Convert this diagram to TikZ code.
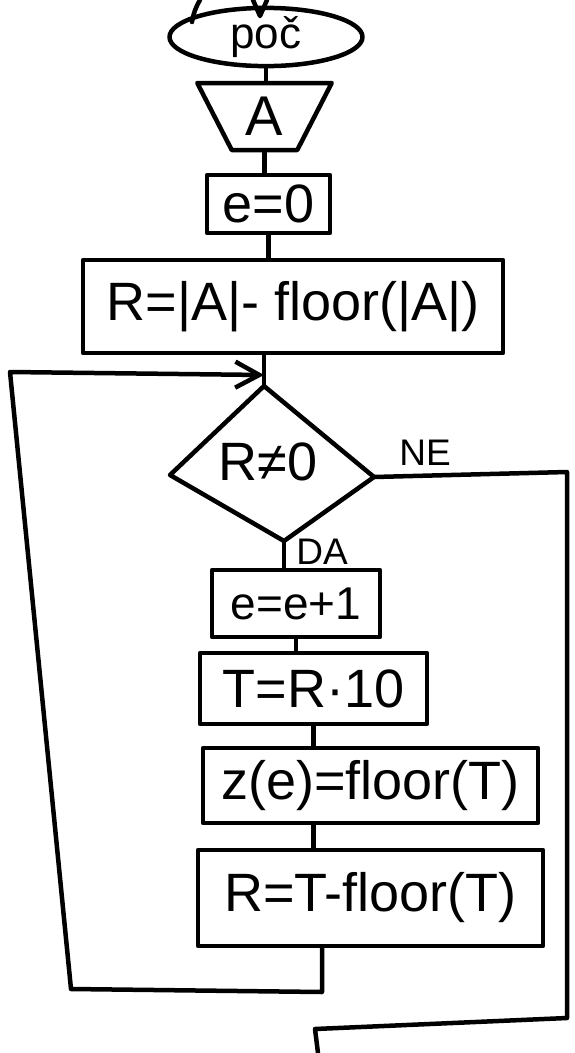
\documentclass[tikz,border=0pt]{standalone}
\usepackage{fontspec}
\setmainfont{Liberation Sans}
\usetikzlibrary{shapes.geometric,arrows.meta}
\begin{document}
\begin{tikzpicture}[x=1pt,y=-1pt,
  ln/.style={line width=4.5pt, line cap=round, line join=round},
  box/.style={ln, draw, rectangle, inner sep=0pt},
  hw/.style={font=\fontsize{54}{54}\selectfont, inner sep=0pt},
  hwm/.style={font=\fontsize{46}{46}\selectfont, inner sep=0pt},
  hws/.style={font=\fontsize{37}{37}\selectfont, inner sep=0pt}]
\useasboundingbox (0,0) rectangle (574,1053);
% top fragments
\coordinate (f1) at (200,0);
\coordinate (f2) at (192,22);
\draw[ln] (f1) to[bend right=10] (f2);
\coordinate (v1) at (253,0);
\coordinate (v2) at (260,16);
\coordinate (v3) at (267,0);
\draw[ln] (v1) -- (v2) -- (v3);
% nodes
\node[ln,draw,ellipse,minimum width=193pt,minimum height=40pt,inner sep=0pt,
  font=\fontsize{44}{44}\selectfont] (poc) at (266,37) {poč};
\node[ln,draw,trapezium,shape border rotate=180,trapezium stretches=true,
  minimum width=135pt,minimum height=67pt,trapezium angle=63,inner sep=0pt,
  font=\fontsize{56}{56}\selectfont] (inA) at (264.5,116.5) {A};
\node[box,hw,minimum width=123pt,minimum height=58pt] (e0) at (268.5,204) {e=0};
\node[box,hw,minimum width=420pt,minimum height=93pt] (r1) at (293,306.5) {R=|A|- floor(|A|)};
\coordinate (dT) at (264,386);
\coordinate (dL) at (170,475);
\coordinate (dR) at (374,477);
\coordinate (dB) at (284,541);
\draw[ln] (dT) -- (dR) -- (dB) -- (dL) -- cycle;
\node[hw] (cond) at (268,462) {R≠0};
\node[hws] (ne) at (425,453) {NE};
\node[hws] (da) at (322,552) {DA};
\node[box,hwm,minimum width=168pt,minimum height=67pt] (e1) at (296,603.5) {e=e+1};
\node[box,hw,minimum width=227pt,minimum height=71pt] (t) at (313.5,688.5) {T=R·10};
\node[box,hw,minimum width=335pt,minimum height=75pt] (z) at (370.5,785.5) {z(e)=floor(T)};
\node[box,hw,minimum width=345pt,minimum height=96pt] (r2) at (370.5,898) {R=T-floor(T)};
% connectors
\draw[ln] (poc.south) -- (poc.south |- inA.north);
\draw[ln] (inA.south) -- (inA.south |- e0.north);
\draw[ln] (e0.south) -- (e0.south |- r1.north);
\draw[ln] (r1.south -| dT) -- (dT);
\draw[ln] (dB) -- (dB |- e1.north);
\draw[ln] (e1.south) -- (e1.south |- t.north);
\draw[ln] (t.south) -- (t.south |- z.north);
\draw[ln] (z.south -| t.south) -- (t.south |- r2.north);
% loop back
\coordinate (lb1) at (322,992);
\coordinate (lb2) at (71,989);
\coordinate (lt) at (10,372);
\coordinate (arr) at (264,375);
\draw[ln,-{Straight Barb[length=24pt,width=26pt,line width=4.5pt]}]
  (r2.south -| lb1) -- (lb1) -- (lb2) -- (lt) -- (arr);
% NE branch
\coordinate (ne1) at (567,472);
\coordinate (ne2) at (567,1018);
\coordinate (ne3) at (315,1029);
\coordinate (ne4) at (318,1053);
\draw[ln] (dR) -- (ne1) -- (ne2) -- (ne3) -- (ne4);
\end{tikzpicture}
\end{document}
